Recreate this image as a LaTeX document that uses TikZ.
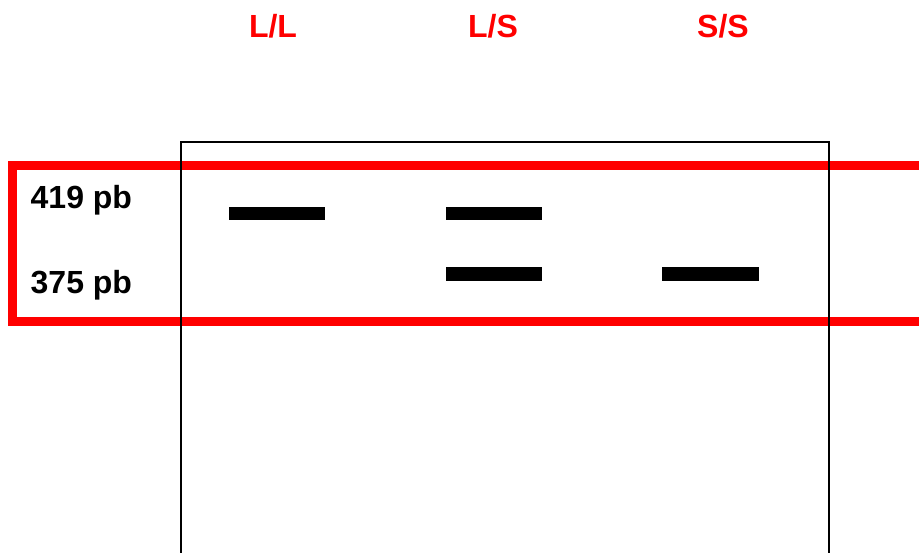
\documentclass[tikz,border=0pt]{standalone}
\usepackage{fontspec}
\setmainfont{Liberation Sans}
\begin{document}
\begin{tikzpicture}[x=1pt,y=-1pt,
  header/.style={text=red,font=\fontsize{32}{36}\selectfont\bfseries,inner sep=0pt,anchor=base},
  size/.style={text=black,font=\fontsize{32}{36}\selectfont\bfseries,inner sep=0pt,anchor=base west},
  band/.style={fill=black,draw=none},
  gel/.style={draw=black,line width=1.5pt},
  frame/.style={draw=red,line width=9.5pt}]
\clip (0,0) rectangle (919,552);
\fill[white] (0,0) rectangle (919,552);
% red highlight frame
\draw[frame] (12.5,165.7) rectangle (940,321.7);
% gel outline (open at the bottom edge of the picture)
\draw[gel] (181,570) -- (181,142) -- (829,142) -- (829,570);
% bands
\path[band] (229,207) rectangle (325,220);
\path[band] (446,207) rectangle (542,220);
\path[band] (446,267) rectangle (542,281);
\path[band] (662,267) rectangle (759,281);
% headers
\node[header] (ll) at (273,37) {L/L};
\node[header] (ls) at (493,37) {L/S};
\node[header] (ss) at (723,37) {S/S};
% sizes
\node[size] (s419) at (30.5,208) {419 pb};
\node[size] (s375) at (30.5,293) {375 pb};
\end{tikzpicture}
\end{document}
